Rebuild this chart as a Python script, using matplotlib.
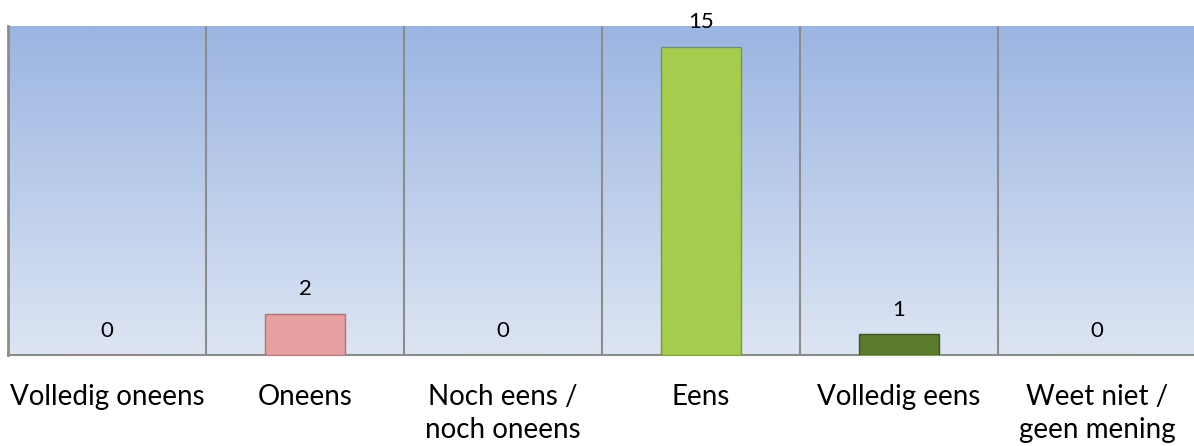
import numpy as np
import matplotlib.pyplot as plt
import matplotlib.colors as mcolors

# data
categories = ["Volledig oneens", "Oneens", "Noch eens /\nnoch oneens",
              "Eens", "Volledig eens", "Weet niet /\ngeen mening"]
counts = [0, 2, 0, 15, 1, 0]
bar_colors = ["#e6a0a0", "#e6a0a0", "#a6cc4e", "#a6cc4e", "#5b7a2c", "#a6cc4e"]
edge_colors = ["#b87070", "#b87070", "#7a9a30", "#7a9a30", "#3e561c", "#7a9a30"]

plt.rcParams['font.family'] = ['Lato', 'DejaVu Sans']

fig = plt.figure(figsize=(11.94, 4.46), dpi=100)
ax = fig.add_axes([8 / 1194, 91 / 446, 1188 / 1194, 329 / 446])

n = len(categories)
x = np.arange(n)
ax.set_xlim(-0.5, n - 0.5)
ax.set_ylim(0, 16)

# background gradient, light at bottom, darker blue at top
cmap = mcolors.LinearSegmentedColormap.from_list("bg", ["#dde5f3", "#9bb5e2"])
grad = np.linspace(0, 1, 256).reshape(-1, 1)
ax.imshow(grad, aspect='auto', cmap=cmap, origin='lower',
          extent=[-0.5, n - 0.5, 0, 16], zorder=0)

# category separators
for b in np.arange(0.5, n - 0.5, 1):
    ax.axvline(b, color="#8c8c8c", lw=1.5, zorder=1)

bars = ax.bar(x, counts, width=0.4, color=bar_colors, edgecolor=edge_colors,
              linewidth=1.0, zorder=3)

for xi, v in zip(x, counts):
    ax.text(xi, v + 0.7, str(v), ha='center', va='bottom', fontsize=16, zorder=4)

ax.set_xticks(x)
ax.set_xticklabels(categories, fontsize=20, linespacing=1.32, va='top')
ax.tick_params(axis='x', length=0, pad=21)
ax.set_yticks([])

for s in ['top', 'right']:
    ax.spines[s].set_visible(False)
ax.spines['left'].set_color('#8c8c8c')
ax.spines['left'].set_linewidth(2)
ax.spines['bottom'].set_color('#8c8c8c')
ax.spines['bottom'].set_linewidth(1.5)

fig.savefig('out.png', dpi=100)
